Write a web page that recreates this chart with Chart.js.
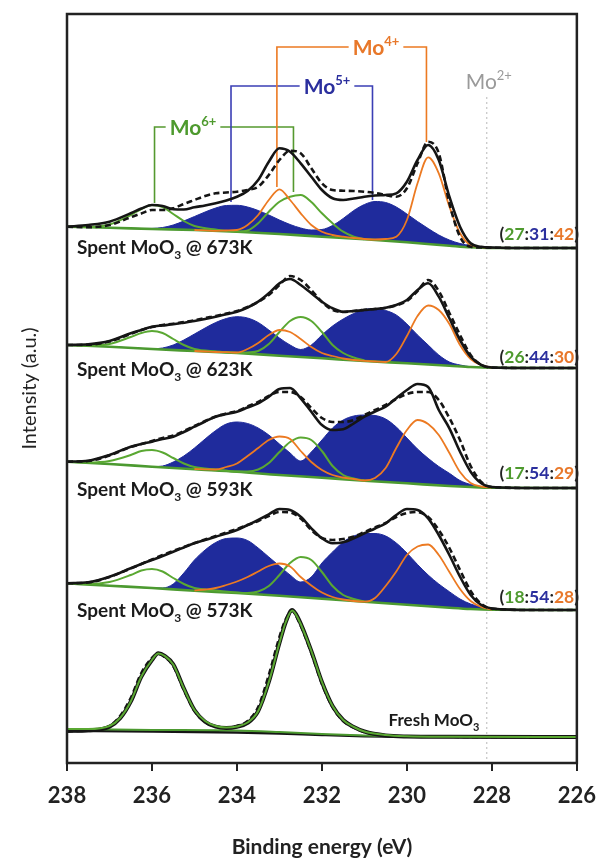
<!DOCTYPE html>
<html>
<head>
<meta charset="utf-8">
<script src="https://cdn.jsdelivr.net/npm/chart.js@4.4.1/dist/chart.umd.min.js"></script>
<style>
html,body{margin:0;padding:0;background:#fff;}
canvas{display:block;}
</style>
</head>
<body>
<canvas id="c" width="608" height="861" style="width:608px;height:861px"></canvas>
<script>
// ---------------- DATA (heights above each spectrum's right-end baseline) ----------------
const tickLabels = [238, 236, 234, 232, 230, 228, 226];
const sampleTemps = ['673K', '623K', '593K', '573K'];
const offsets = [515, 395, 275, 153, 26]; // 673K, 623K, 593K, 573K, Fresh
const ratios = [[27, 31, 42], [26, 44, 30], [17, 54, 29], [18, 54, 28]];
const mo2Energy = 228.12;

const energyGrid = [238, 237.5, 237, 236.5, 236.25, 236, 235.75, 235.5, 235.25, 235, 234.75, 234.5, 234.25, 234, 233.75, 233.5, 233.25, 233, 232.75, 232.5, 232.25, 232, 231.75, 231.5, 231.25, 231, 230.75, 230.5, 230.25, 230, 229.75, 229.5, 229.25, 229, 228.75, 228.5, 228.25, 228, 227, 226];
const greenGrid = [238, 237.5, 237, 236.5, 236.25, 236, 235.75, 235.5, 235.25, 235, 234.5, 234, 233.75, 233.5, 233.25, 233, 232.75, 232.5, 232.25, 232, 231.75, 231.5, 231.25, 231];
const orangeGrid = [235, 234.75, 234.5, 234.25, 234, 233.75, 233.5, 233.25, 233, 232.75, 232.5, 232.25, 232, 231.75, 231.5, 231.25, 231, 230.75, 230.5, 230.25, 230, 229.75, 229.5, 229.25, 229, 228.75, 228.5, 228.25, 228];
const baseGrid = [238, 237, 236, 235, 234, 233, 232, 231, 230, 229, 228.5, 228, 226];

// 673K
const fit673 = [21.3, 23, 26.3, 34.7, 39.5, 43, 42, 38.7, 38.5, 40.7, 42.5, 44.7, 47.5, 51.3, 57, 68, 86.3, 99.7, 96.3, 84.7, 71.3, 58, 49.7, 48, 49.5, 51.3, 52.5, 53, 54.7, 66.3, 88, 103, 88, 51.3, 21.3, 4.7, 1.2, 0.5, 0, 0];
const data673 = [21.3, 20.7, 23, 30.7, 34.5, 38, 38, 39.7, 44, 48, 52, 54.7, 55.5, 56.3, 58, 61.3, 73, 88, 97.3, 94.7, 79.7, 64.7, 58, 57.3, 57, 56.3, 55, 53, 51.3, 59.7, 84.7, 106.3, 94.7, 44.7, 11.3, 1.3, 0.5, 0.3, 0, 0];
const mo5_673 = [21.3, 20.8, 20.3, 19.7, 19.5, 19.6, 20.5, 23, 27, 31.5, 36, 40, 42.5, 42.7, 41, 37.5, 33, 28, 23.5, 20, 18, 18.5, 22.5, 29.5, 37.5, 43.5, 46.5, 45.5, 41, 34, 26.5, 19.5, 13, 8, 4.5, 2.5, 1.3, 0.7, 0, 0];
const mo6_673 = [21.3, 21, 23.5, 33, 39, 43, 41, 34, 27, 22, 18.5, 16.5, 17.5, 24.7, 36.3, 46.3, 51.3, 53, 46, 34.7, 24.7, 16.3, 11.3, 8.7];
const mo4_673 = [18, 17.7, 17.2, 17.5, 18, 23, 33, 48, 58.7, 48, 34.7, 23, 16.3, 13, 11.3, 10, 9, 8.5, 9, 11.3, 28, 64.7, 90.7, 74.7, 41.3, 14.7, 3, 1, 0];
const base673 = [21.3, 20.3, 19, 18, 16.3, 14, 11.3, 8.7, 5.7, 2.3, 0.7, 0, 0];

// 623K
const fit623 = [23, 23.7, 27, 34.7, 38, 41.3, 42.5, 43.7, 45.3, 47, 49, 51.3, 53.8, 56.3, 60.5, 66.3, 74.7, 84.7, 89, 83, 74.7, 66.3, 59.7, 56.3, 57, 58, 59, 60.3, 63, 68, 78, 84.7, 71.3, 49.7, 28, 11.3, 3, 0.5, 0, 0];
const data623 = [23, 23.3, 26.5, 34, 38, 41, 43, 44.3, 46, 47.7, 50, 52, 54.5, 57, 61, 66, 73, 83, 92, 88, 78, 66, 58, 56, 57, 58.3, 59, 60, 62.5, 67, 77, 88, 77, 55, 33, 13, 3, 0.5, 0, 0];
const mo5_623 = [23, 22.2, 21.3, 20.2, 19.6, 19.2, 20, 23, 28, 34, 40, 45.5, 49.5, 51.3, 50, 45.5, 38, 30, 23, 18.5, 23, 33, 42, 49, 54.5, 58.5, 59.5, 57.5, 53, 44, 33, 23, 13, 6, 3, 1.3, 0.8, 0.4, 0, 0];
const mo6_623 = [23, 22.5, 24, 31, 35, 37, 35, 29, 23, 19, 16.5, 15, 15.5, 17, 24, 36, 47, 51, 47, 36, 23, 15, 10.5, 7.5];
const mo4_623 = [17, 16.5, 16, 15.8, 15.5, 19, 25, 33, 38, 36, 29, 21, 15, 12, 9.5, 8, 7.2, 6.5, 6, 14, 32, 52, 62.5, 58, 44, 23, 9, 3, 0.5];
const base623 = [23, 21.3, 19, 17, 15, 12.3, 9.7, 7, 4.7, 2.3, 1, 0.3, 0];

// 593K
const fit593 = [26.3, 27.3, 33, 41.3, 44, 46.3, 49, 51.3, 56, 61.3, 66.5, 71.3, 74, 76.3, 80.5, 84.7, 91.3, 99, 100, 89.7, 76.3, 63, 58, 58.7, 64.7, 71.3, 76.5, 81.3, 89.7, 98, 104, 101, 78, 59.7, 36.3, 16.3, 4.7, 1, 0, 0];
const data593 = [26.3, 27, 32.5, 41, 44, 47, 50, 52.5, 57, 62, 67, 71.5, 74.5, 77, 81.5, 86, 92, 96, 96, 91, 80, 70, 66, 66, 68, 73, 78, 83, 89, 94, 96, 96, 88, 70, 48, 22, 6, 1, 0, 0];
const mo5_593 = [26.3, 25.2, 24, 22.6, 22, 21.3, 22, 26, 32, 40, 49, 57.5, 64, 66, 64.5, 60, 53, 44, 35, 27, 36, 48, 60, 68, 72, 73, 72.5, 69, 61, 50, 39, 29.7, 21.5, 14.7, 7.5, 3.5, 1.5, 0.5, 0, 0];
const mo6_593 = [26.3, 25.5, 27, 33, 37, 38, 35.5, 30, 24.5, 21, 18.5, 16.5, 16.5, 18.5, 25, 36, 46, 50.5, 48, 37, 22, 13, 9.5, 7.5];
const mo4_593 = [19, 18.7, 18.5, 21, 24.5, 32, 40, 48, 51.5, 49, 37, 26, 18, 13, 10.5, 9, 7.5, 10, 20, 40, 58, 68, 64, 53, 35, 16, 5, 1.5, 0.5];
const base593 = [26.3, 24, 21.3, 18.7, 16.3, 13, 10.3, 7.3, 4.7, 2, 1, 0.3, 0];

// 573K
const fit573 = [26.7, 27.7, 33.3, 41.7, 46, 50, 54, 58.3, 62.5, 66.7, 70, 73.3, 76.5, 80, 85, 90, 95.7, 101, 100, 93.3, 81.7, 71.7, 66.7, 67.7, 71.7, 76.7, 81.5, 86.7, 95, 101, 100, 91.7, 75, 55, 33.3, 15, 5, 1.5, 0, 0];
const data573 = [26.7, 27.5, 33, 41.5, 46, 50.5, 55, 59, 63, 67, 70.5, 74, 77.5, 81, 85, 89, 94, 98, 97.5, 91.5, 80, 72, 70, 71, 73.5, 78, 82.5, 87, 93, 97, 98, 93, 80, 62, 40, 19, 6, 1.5, 0, 0];
const mo5_573 = [26.7, 25.5, 24.3, 23.1, 22.5, 22, 22, 26, 37, 50, 60, 67.5, 71.5, 72, 69.5, 62, 53, 44, 35, 28, 33, 47, 58, 68, 74, 76.5, 76.5, 74, 67, 57, 45.5, 35, 26, 18.3, 11, 6, 3, 1.5, 0, 0];
const mo6_573 = [26.7, 26, 28, 35, 39.5, 41, 38.5, 32, 26, 22, 19.5, 17.5, 17, 18.5, 24, 35, 47, 53, 50, 38, 24, 15, 11, 8.3];
const mo4_573 = [19.5, 20.5, 22, 25, 28.5, 33, 38.5, 44, 46.5, 43.5, 33, 24.5, 17.5, 13, 10.5, 9, 8.3, 12, 24, 38.5, 55, 63.5, 65.5, 55, 38, 21, 9, 3, 0.5];
const base573 = [26.7, 24.3, 22, 19.3, 17, 14.3, 11.3, 8.3, 5.3, 2.3, 1, 0.3, 0];

// Fresh MoO3
const freshGrid = [238, 237.5, 237, 236.75, 236.5, 236.25, 236, 235.85, 235.7, 235.5, 235.25, 235, 234.75, 234.5, 234.25, 234, 233.75, 233.5, 233.25, 233, 232.85, 232.7, 232.55, 232.25, 232, 231.75, 231.5, 231.25, 231, 230.5, 230, 229, 226];
const freshFit = [6, 6.7, 10.3, 18.7, 35.3, 60.3, 77, 83.7, 81, 72.7, 48.7, 27, 15.3, 10.3, 9, 10.3, 14, 26, 55, 94, 115, 127, 118, 86, 55, 31, 17, 10, 5.5, 1.5, 0.5, 0.2, 0];
const freshData = [6, 6.5, 11, 21, 39, 64, 79, 83, 80, 71, 47, 26, 15, 10.5, 9.5, 11, 16, 30, 62, 100, 118, 126, 116, 84, 53, 30, 16, 9.5, 5, 1.5, 0.5, 0.2, 0];
const freshMo6 = [8, 8, 11, 19, 35.5, 60.5, 77, 83.5, 81, 72.5, 48.5, 27, 16, 11, 9.5, 10.5, 14.5, 26, 55, 94, 115, 126.5, 117.5, 86, 55, 31, 17, 10, 5.5, 2, 0.8, 0.3, 0];
const freshBaseGrid = [238, 236, 234, 233, 232, 231, 230, 228, 226];
const freshBase = [6, 5.5, 4.5, 3.5, 2, 0.8, 0.3, 0, 0];
const freshMo6Base = [8, 7, 6.5, 5, 3, 1.5, 0.5, 0, 0];

// ---------------- STYLE ----------------
const BLACK = '#151515';
const GREEN = '#5aa832';
const GREEN_BASE = '#4c9a30';
const BLUE = '#1f2b9c';
const ORANGE = '#ec7a22';
const FONT = "Lato, 'Open Sans', sans-serif";

function pts(grid, vals, off) { return grid.map((e, i) => ({ x: e, y: off + vals[i] })); }

const spectra = [
  { fit: fit673, data: data673, mo5: mo5_673, mo6: mo6_673, mo4: mo4_673, base: base673 },
  { fit: fit623, data: data623, mo5: mo5_623, mo6: mo6_623, mo4: mo4_623, base: base623 },
  { fit: fit593, data: data593, mo5: mo5_593, mo6: mo6_593, mo4: mo4_593, base: base593 },
  { fit: fit573, data: data573, mo5: mo5_573, mo6: mo6_573, mo4: mo4_573, base: base573 }
];

const datasets = [];
spectra.forEach((s, k) => {
  const off = offsets[k];
  const bi = datasets.length;
  datasets.push({ data: pts(baseGrid, s.base, off), borderColor: GREEN_BASE, borderWidth: 2.6, fill: false, order: 5 });
  datasets.push({ data: pts(energyGrid, s.mo5, off), borderColor: BLUE, backgroundColor: BLUE, borderWidth: 1, fill: bi, order: 6 });
  datasets.push({ data: pts(greenGrid, s.mo6, off), borderColor: GREEN, borderWidth: 2, fill: false, order: 4 });
  datasets.push({ data: pts(orangeGrid, s.mo4, off), borderColor: ORANGE, borderWidth: 1.8, fill: false, order: 3 });
  datasets.push({ data: pts(energyGrid, s.data, off), borderColor: BLACK, borderWidth: 2.6, borderDash: [6, 3.5], fill: false, order: 2 });
  datasets.push({ data: pts(energyGrid, s.fit, off), borderColor: BLACK, borderWidth: 2.6, fill: false, order: 1 });
});
const fo = offsets[4];
datasets.push({ data: pts(freshBaseGrid, freshBase, fo), borderColor: BLACK, borderWidth: 2.4, fill: false, order: 6 });
datasets.push({ data: pts(freshBaseGrid, freshMo6Base, fo), borderColor: GREEN_BASE, borderWidth: 2, fill: false, order: 5 });
datasets.push({ data: pts(freshGrid, freshData, fo), borderColor: BLACK, borderWidth: 2.6, borderDash: [6, 3.5], fill: false, order: 3 });
datasets.push({ data: pts(freshGrid, freshFit, fo), borderColor: BLACK, borderWidth: 4, fill: false, order: 2 });
datasets.push({ data: pts(freshGrid, freshMo6, fo), borderColor: GREEN, borderWidth: 2, fill: false, order: 1 });

// ---------------- TEXT HELPERS ----------------
function drawRich(ctx, parts, x, y, align) {
  let w = 0;
  parts.forEach(p => { ctx.font = p.font; p.w = ctx.measureText(p.t).width; w += p.w; });
  let cx = align === 'center' ? x - w / 2 : (align === 'right' ? x - w : x);
  ctx.textBaseline = 'alphabetic';
  ctx.textAlign = 'left';
  parts.forEach(p => { ctx.font = p.font; ctx.fillStyle = p.color; ctx.fillText(p.t, cx, y + (p.dy || 0)); cx += p.w; });
  return w;
}

const brackets = [
  { sup: '6+', color: '#55992f', textColor: '#4e9a2e', eL: 235.94, eR: 232.67, vTop: 636, vBL: 560, vBR: 571, cx: 193 },
  { sup: '5+', color: '#3b3fb5', textColor: '#2b2f9e', eL: 234.14, eR: 230.81, vTop: 677, vBL: 561, vBR: 563, cx: 327 },
  { sup: '4+', color: '#ec7a22', textColor: '#e8782a', eL: 233.06, eR: 229.54, vTop: 716, vBL: 576, vBR: 621, cx: 376 }
];

function moParts(sup, color, weight, size) {
  return [
    { t: 'Mo', font: `${weight} ${size}px ${FONT}`, color },
    { t: sup, font: `${weight} ${Math.round(size * 0.6)}px ${FONT}`, color, dy: -9 }
  ];
}

const decor = {
  id: 'decor',
  beforeDatasetsDraw(chart) {
    const { ctx, scales: { x, y }, chartArea: a } = chart;
    ctx.save();
    const px = x.getPixelForValue(mo2Energy);
    ctx.strokeStyle = '#b8b8b8'; ctx.lineWidth = 1; ctx.setLineDash([2, 3]);
    ctx.beginPath(); ctx.moveTo(px, y.getPixelForValue(666)); ctx.lineTo(px, a.bottom); ctx.stroke();
    ctx.setLineDash([]);
    brackets.forEach(b => {
      const xl = x.getPixelForValue(b.eL), xr = x.getPixelForValue(b.eR);
      const yt = y.getPixelForValue(b.vTop);
      ctx.font = `bold 21px ${FONT}`;
      const w1 = ctx.measureText('Mo').width;
      ctx.font = `bold 13px ${FONT}`;
      const w = w1 + ctx.measureText(b.sup).width;
      const g0 = b.cx - w / 2 - 4, g1 = b.cx + w / 2 + 4;
      ctx.strokeStyle = b.color; ctx.lineWidth = 1.6;
      ctx.beginPath();
      ctx.moveTo(xl, y.getPixelForValue(b.vBL)); ctx.lineTo(xl, yt); ctx.lineTo(g0, yt);
      ctx.moveTo(g1, yt); ctx.lineTo(xr, yt); ctx.lineTo(xr, y.getPixelForValue(b.vBR));
      ctx.stroke();
    });
    ctx.restore();
  },
  afterDraw(chart) {
    const { ctx, scales: { x, y }, chartArea: a } = chart;
    ctx.save();
    ctx.strokeStyle = '#222'; ctx.lineWidth = 2.5;
    ctx.strokeRect(a.left, a.top, a.right - a.left, a.bottom - a.top);
    brackets.forEach(b => {
      const yt = y.getPixelForValue(b.vTop);
      drawRich(ctx, moParts(b.sup, b.textColor, 'bold', 21), b.cx, yt + 7.5, 'center');
    });
    drawRich(ctx, [
      { t: 'Mo', font: `normal 21px ${FONT}`, color: '#9a9a9a' },
      { t: '2+', font: `normal 13px ${FONT}`, color: '#9a9a9a', dy: -9 }
    ], x.getPixelForValue(mo2Energy) + 2, 89, 'center');
    const labelY = [254, 376, 496, 617];
    sampleTemps.forEach((t, i) => {
      drawRich(ctx, [
        { t: 'Spent MoO', font: `bold 19px ${FONT}`, color: '#1a1a1a' },
        { t: '3', font: `bold 12px ${FONT}`, color: '#1a1a1a', dy: 5 },
        { t: ' @ ' + t, font: `bold 19px ${FONT}`, color: '#1a1a1a' }
      ], 77, labelY[i], 'left');
    });
    drawRich(ctx, [
      { t: 'Fresh MoO', font: `bold 17px ${FONT}`, color: '#1a1a1a' },
      { t: '3', font: `bold 11px ${FONT}`, color: '#1a1a1a', dy: 5 }
    ], 434, 726, 'center');
    const ratioY = [240, 363, 479, 603];
    ratios.forEach((r, i) => {
      const f = `bold 17.5px ${FONT}`;
      drawRich(ctx, [
        { t: '(', font: f, color: '#222' },
        { t: String(r[0]), font: f, color: '#4e9a2e' },
        { t: ':', font: f, color: '#222' },
        { t: String(r[1]), font: f, color: '#2b2f9e' },
        { t: ':', font: f, color: '#222' },
        { t: String(r[2]), font: f, color: '#e8782a' },
        { t: ')', font: f, color: '#222' }
      ], 579, ratioY[i], 'right');
    });
    ctx.restore();
  }
};

new Chart(document.getElementById('c'), {
  type: 'line',
  data: { datasets },
  options: {
    responsive: false,
    animation: false,
    devicePixelRatio: 1,
    layout: { padding: { left: 0, right: 24, top: 14, bottom: 0 } },
    elements: { point: { radius: 0 }, line: { cubicInterpolationMode: 'monotone' } },
    plugins: { legend: { display: false }, tooltip: { enabled: false } },
    scales: {
      x: {
        type: 'linear', min: 226, max: 238, reverse: true,
        afterBuildTicks: s => { s.ticks = tickLabels.map(v => ({ value: v })); },
        afterFit: s => { s.height = 98; },
        ticks: { color: '#222', padding: 12, font: { family: FONT, size: 22, weight: 'bold' }, callback: v => String(v) },
        grid: { drawOnChartArea: false, drawTicks: true, tickLength: 8, color: '#222', lineWidth: 2 },
        border: { display: false },
        title: { display: true, text: 'Binding energy (eV)', color: '#222', font: { family: FONT, size: 21, weight: 'bold' }, padding: { top: 0, bottom: 1 } }
      },
      y: {
        type: 'linear', min: 0, max: 749,
        afterFit: s => { s.width = 67; },
        ticks: { display: false },
        grid: { display: false, drawTicks: false },
        border: { display: false },
        title: { display: true, text: 'Intensity (a.u.)', color: '#222', font: { family: FONT, size: 20, weight: 'normal' }, padding: { top: 18, bottom: 0 } }
      }
    }
  },
  plugins: [decor]
});
</script>
</body>
</html>
